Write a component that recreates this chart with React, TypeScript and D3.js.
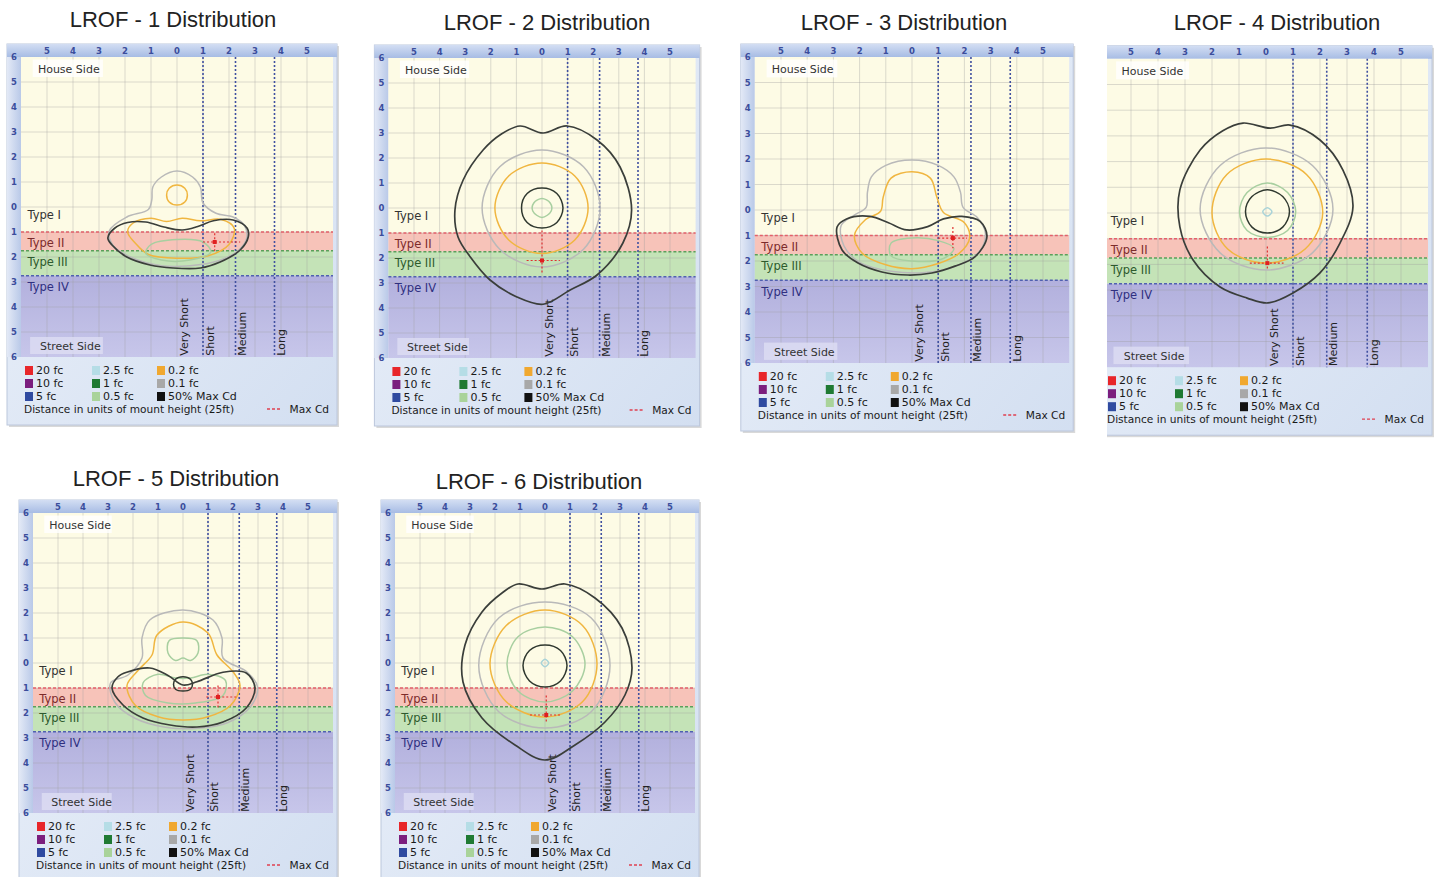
import React from 'react';
import * as d3 from 'd3';

type Pt = [number, number];
type Contour = { level: string; points: Pt[] };

// chart values (x: lateral units, y: + is street side)
const titles = [
  'LROF - 1 Distribution',
  'LROF - 2 Distribution',
  'LROF - 3 Distribution',
  'LROF - 4 Distribution',
  'LROF - 5 Distribution',
  'LROF - 6 Distribution',
];
const xTickValues = [-5, -4, -3, -2, -1, 0, 1, 2, 3, 4, 5];
const yTickValues = [-6, -5, -4, -3, -2, -1, 0, 1, 2, 3, 4, 5, 6];
const gridValues = [-5, -4, -3, -2, -1, 0, 1, 2, 3, 4, 5];
const typeEdges = [1, 1.75, 2.75];
const typeNames = ['Type I', 'Type II', 'Type III', 'Type IV'];
const lateralEdges = [1, 2.25, 3.75];
const lateralNames = ['Very Short', 'Short', 'Medium', 'Long'];
const legendColumns = [
  ['20 fc', '10 fc', '5 fc'],
  ['2.5 fc', '1 fc', '0.5 fc'],
  ['0.2 fc', '0.1 fc', '50% Max Cd'],
];

const lrof1: Contour[] = [
  { level: '0.1 fc', points: [[0, -1.44], [0.6, -1.2], [0.9, -0.8], [1.0, -0.16], [1.5, 0.25], [2.16, 0.4], [2.6, 0.75], [2.68, 1.25], [2.35, 1.75], [1.6, 2.15], [0.5, 2.35], [-0.6, 2.35], [-1.8, 2.0], [-2.45, 1.55], [-2.6, 0.95], [-1.93, 0.4], [-1.1, 0.1], [-0.97, -0.28], [-0.93, -0.8], [-0.6, -1.2]] },
  { level: '0.2 fc', points: [[0, -0.88], [0.3, -0.75], [0.4, -0.48], [0.3, -0.2], [0, -0.08], [-0.3, -0.2], [-0.4, -0.48], [-0.3, -0.75]] },
  { level: '0.2 fc', points: [[-1.7, 0.65], [-1.0, 0.45], [-0.4, 0.58], [0.2, 0.45], [0.9, 0.55], [1.7, 0.5], [2.2, 0.85], [2.0, 1.5], [1.2, 1.95], [0, 2.05], [-1.1, 1.9], [-1.6, 1.45], [-1.9, 1.0]] },
  { level: '0.5 fc', points: [[-1.0, 1.5], [0, 1.3], [1.0, 1.4], [1.3, 1.8], [0.5, 2.12], [-0.6, 2.12], [-1.2, 1.85]] },
  { level: '50% Max Cd', points: [[-2.66, 1.24], [-2.4, 0.85], [-1.9, 0.62], [-1.2, 0.6], [-0.5, 0.8], [0.2, 0.92], [0.8, 0.78], [1.4, 0.55], [2.16, 0.52], [2.7, 0.85], [2.74, 1.2], [2.43, 1.72], [1.66, 2.2], [0.9, 2.44], [-0.15, 2.44], [-1.04, 2.32], [-1.93, 2.0], [-2.5, 1.52]] },
];

const lrof2: Contour[] = [
  { level: '0.1 fc', points: [[0, -2.32], [1.62, -1.65], [2.27, 0], [1.62, 1.65], [0, 2.36], [-1.65, 1.65], [-2.34, 0], [-1.65, -1.65]] },
  { level: '0.2 fc', points: [[0, -1.8], [1.28, -1.28], [1.8, 0], [1.28, 1.28], [0, 1.82], [-1.3, 1.28], [-1.84, 0], [-1.3, -1.28]] },
  { level: '0.5 fc', points: [[0, -0.38], [0.32, -0.2], [0.36, 0.12], [0, 0.38], [-0.36, 0.12], [-0.32, -0.2]] },
  { level: '1 fc', points: [[0, -0.8], [0.58, -0.58], [0.82, 0], [0.58, 0.58], [0, 0.8], [-0.58, 0.58], [-0.8, 0], [-0.58, -0.58]] },
  { level: '50% Max Cd', points: [[-0.86, -3.28], [0.04, -3.0], [0.98, -3.28], [2.15, -2.72], [3.05, -1.64], [3.5, 0.08], [3.16, 1.4], [2.15, 2.68], [1.1, 3.28], [0.04, 3.85], [-0.98, 3.56], [-2.03, 2.88], [-2.8, 1.96], [-3.28, 1.16], [-3.4, 0.08], [-3.08, -1.12], [-2.3, -2.32], [-1.6, -2.95]] },
];

const lrof3: Contour[] = [
  { level: '0.1 fc', points: [[0, -1.96], [1.0, -1.75], [1.6, -1.3], [1.85, -0.7], [1.95, -0.1], [2.5, 0.3], [2.8, 0.9], [2.6, 1.6], [1.8, 2.15], [0.5, 2.45], [-0.8, 2.4], [-2.0, 2.05], [-2.6, 1.4], [-2.7, 0.6], [-2.2, 0.2], [-1.75, -0.1], [-1.7, -0.7], [-1.55, -1.3], [-1.0, -1.75]] },
  { level: '0.2 fc', points: [[0, -1.5], [0.7, -1.25], [0.95, -0.5], [1.2, 0.1], [2.0, 0.5], [2.2, 1.1], [1.8, 1.7], [1.0, 2.1], [0, 2.3], [-1.0, 2.15], [-1.9, 1.7], [-2.2, 1.0], [-1.8, 0.4], [-1.2, 0.05], [-1.1, -0.5], [-0.8, -1.25]] },
  { level: '0.5 fc', points: [[-0.8, 1.3], [0, 1.1], [1.0, 1.2], [1.6, 1.5], [1.2, 1.9], [0, 2.0], [-0.8, 1.8]] },
  { level: '50% Max Cd', points: [[-2.86, 0.67], [-2.5, 0.35], [-1.6, 0.25], [-0.9, 0.5], [-0.2, 0.78], [0.6, 0.65], [1.2, 0.35], [1.9, 0.25], [2.6, 0.45], [2.86, 1.05], [2.4, 1.84], [1.64, 2.2], [0.76, 2.47], [-0.15, 2.55], [-1.15, 2.43], [-2.06, 2.08], [-2.67, 1.57]] },
];

const lrof4: Contour[] = [
  { level: '0.1 fc', points: [[0, -2.53], [1.72, -1.85], [2.48, -0.15], [1.72, 1.55], [0, 2.22], [-1.7, 1.55], [-2.44, -0.15], [-1.7, -1.85]] },
  { level: '0.2 fc', points: [[0, -2.1], [1.5, -1.5], [2.1, 0], [1.45, 1.4], [0, 1.95], [-1.42, 1.4], [-2.0, 0], [-1.45, -1.5]] },
  { level: '0.5 fc', points: [[0.05, -1.17], [0.8, -0.8], [1.1, -0.05], [0.8, 0.68], [0.05, 0.95], [-0.7, 0.68], [-0.98, -0.05], [-0.7, -0.8]] },
  { level: '2.5 fc', points: [[0.05, -0.2], [0.22, -0.05], [0.05, 0.12], [-0.12, -0.05]] },
  { level: '1 fc', points: [[0.05, -0.9], [0.62, -0.64], [0.87, -0.05], [0.62, 0.55], [0.05, 0.78], [-0.52, 0.55], [-0.76, -0.05], [-0.52, -0.64]] },
  { level: '50% Max Cd', points: [[-0.85, -3.5], [0.15, -3.3], [0.89, -3.42], [2.0, -2.84], [2.85, -1.67], [3.22, -0.23], [2.74, 1.17], [2.0, 2.33], [1.0, 3.11], [0.07, 3.5], [-0.7, 3.31], [-1.7, 2.88], [-2.7, 1.83], [-3.19, 0.54], [-3.19, -0.9], [-2.44, -2.45], [-1.6, -3.2]] },
];

const lrof5: Contour[] = [
  { level: '0.1 fc', points: [[0, -2.12], [1.2, -1.72], [1.56, -1.0], [1.6, -0.2], [2.56, 0.36], [2.98, 0.95], [2.72, 1.72], [1.8, 2.38], [0.5, 2.62], [-0.7, 2.57], [-1.9, 2.22], [-2.72, 1.58], [-2.9, 0.8], [-2.2, 0.48], [-1.64, -0.2], [-1.64, -1.0], [-1.33, -1.72]] },
  { level: '0.2 fc', points: [[0, -1.64], [1.0, -1.2], [1.36, -0.32], [2.0, 0.35], [2.28, 0.9], [1.9, 1.7], [1.0, 2.15], [0, 2.28], [-1.0, 2.15], [-1.9, 1.7], [-2.24, 0.9], [-1.8, 0.3], [-1.24, -0.32], [-1.04, -1.12]] },
  { level: '0.5 fc', points: [[0, -1.0], [0.55, -0.9], [0.6, -0.4], [0.3, -0.1], [0, -0.2], [-0.3, -0.1], [-0.6, -0.4], [-0.55, -0.9]] },
  { level: '0.5 fc', points: [[-1.6, 0.8], [-1.0, 0.45], [-0.3, 0.6], [0.3, 0.6], [1.0, 0.45], [1.7, 0.7], [1.6, 1.3], [0.5, 1.6], [-0.6, 1.6], [-1.5, 1.3]] },
  { level: '1 fc', points: [[0, 0.55], [0.3, 0.65], [0.38, 0.85], [0.3, 1.05], [0, 1.12], [-0.3, 1.05], [-0.38, 0.85], [-0.3, 0.65]] },
  { level: '50% Max Cd', points: [[-2.84, 1.0], [-2.6, 0.55], [-2.25, 0.37], [-1.33, 0.2], [-0.6, 0.5], [0, 0.88], [0.56, 0.75], [1.6, 0.37], [2.53, 0.4], [2.88, 1.0], [2.53, 1.8], [1.6, 2.36], [0.56, 2.56], [-0.52, 2.48], [-1.6, 2.2], [-2.4, 1.68]] },
];

const lrof6: Contour[] = [
  { level: '0.1 fc', points: [[0, -2.44], [1.85, -1.8], [2.6, 0.1], [1.85, 1.95], [0, 2.6], [-1.85, 1.95], [-2.65, 0.1], [-1.85, -1.8]] },
  { level: '0.2 fc', points: [[0, -2.12], [1.5, -1.5], [2.08, 0.05], [1.5, 1.55], [0, 2.16], [-1.55, 1.55], [-2.2, 0.05], [-1.55, -1.5]] },
  { level: '0.5 fc', points: [[0, -1.44], [1.1, -1.05], [1.6, 0.05], [1.1, 1.12], [0, 1.56], [-1.08, 1.12], [-1.52, 0.05], [-1.08, -1.05]] },
  { level: '2.5 fc', points: [[0, -0.15], [0.15, 0], [0, 0.15], [-0.15, 0]] },
  { level: '1 fc', points: [[0, -0.72], [0.62, -0.5], [0.88, 0.1], [0.62, 0.72], [0, 0.96], [-0.62, 0.72], [-0.88, 0.1], [-0.62, -0.5]] },
  { level: '50% Max Cd', points: [[-1.08, -3.16], [-0.12, -2.96], [0.8, -3.16], [2.0, -2.6], [3.08, -1.4], [3.48, 0.2], [3.2, 1.28], [2.4, 2.36], [1.2, 3.28], [0, 3.88], [-1.2, 3.28], [-2.52, 2.2], [-3.28, 0.76], [-3.2, -0.72], [-2.52, -2.04], [-1.72, -2.8]] },
];

const panelContours = [lrof1, lrof2, lrof3, lrof4, lrof5, lrof6];
const maxCdPoints: Pt[] = [[1.45, 1.4], [0, 2.1], [1.56, 1.1], [0.05, 1.95], [1.4, 1.36], [0.05, 2.08]];
// [x from, x to, y from, y to] of the dashed Max Cd cross
const maxCdSpans: [number, number, number, number][] = [
  [1.0, 2.43, 1.05, 1.8],
  [-0.6, 0.7, 0.9, 2.6],
  [1.0, 2.1, 0.67, 1.5],
  [-0.6, 0.65, 1.3, 2.2],
  [0.93, 2.2, 0.9, 1.8],
  [-0.6, 0.6, 1.3, 2.4],
];

// styles
const swatch: Record<string, string> = {
  '20 fc': '#e8262a', '10 fc': '#7b1e7e', '5 fc': '#2f4aa0',
  '2.5 fc': '#b5dde6', '1 fc': '#1f7a33', '0.5 fc': '#a9d39a',
  '0.2 fc': '#f0a830', '0.1 fc': '#a8a8a8', '50% Max Cd': '#111111',
};
const stroke: Record<string, string> = {
  '0.1 fc': '#b9b9b9', '0.2 fc': '#f0b640', '0.5 fc': '#a8cfa0',
  '2.5 fc': '#a9d3d8', '1 fc': '#2f382f', '50% Max Cd': '#3a3e3a',
};
const typeLabelY = [0.48, 1.6, 2.36, 3.36];
const typeLabelColor = ['#333333', '#7c2b2b', '#2d5a2d', '#2f2f80'];
const edgeColor = ['#e4606a', '#5aa05a', '#5060b0'];
const lateralLabelX = [0.3, 1.27, 2.5, 4.02];

const layout = [
  { cx: 177, cy: 207, ux: 26, uy: 25, tx: 173, ty: 27 },
  { cx: 542, cy: 208, ux: 25.6, uy: 25, tx: 547, ty: 30 },
  { cx: 912, cy: 210, ux: 26.2, uy: 25.5, tx: 904, ty: 30 },
  { cx: 1266, cy: 213, ux: 27, uy: 25.7, tx: 1277, ty: 30, clipLeft: 1107 },
  { cx: 183, cy: 663, ux: 25, uy: 25, tx: 176, ty: 486 },
  { cx: 545, cy: 663, ux: 25, uy: 25, tx: 539, ty: 489 },
];

const font = "'DejaVu Sans', Verdana, sans-serif";

function Panel({ i }: { i: number }) {
  const L = layout[i];
  const x = d3.scaleLinear().domain([-6, 6]).range([L.cx - 6 * L.ux, L.cx + 6 * L.ux]);
  const y = d3.scaleLinear().domain([-6, 6]).range([L.cy - 6 * L.uy, L.cy + 6 * L.uy]);
  const left = x(-6) - 14, top = y(-6) - 13, right = x(6) + 4, bottom = y(6) + 68;
  const pl = x(-6), pr = x(6), pt = y(-6), pb = y(6);
  const line = d3.line<Pt>()
    .x(d => x(d[0]))
    .y(d => y(d[1]))
    .curve(d3.curveCatmullRomClosed.alpha(0.5));
  const [mx, my] = maxCdPoints[i];
  const [sx1, sx2, sy1, sy2] = maxCdSpans[i];

  return (
    <g>
      <text x={L.tx} y={L.ty} textAnchor="middle" fontFamily="'Liberation Sans', Arial, sans-serif" fontSize={22} fill="#222">
        {titles[i]}
      </text>
      <g clipPath={L.clipLeft ? `url(#clip${i})` : undefined}>
        {L.clipLeft && (
          <clipPath id={`clip${i}`}>
            <rect x={L.clipLeft} y={0} width={2000} height={2000} />
          </clipPath>
        )}
        <rect x={left + 2} y={top + 2} width={right - left} height={bottom - top} fill="#d9d9d9" />
        <rect x={left} y={top} width={right - left} height={bottom - top} fill="url(#legendBg)" stroke="#bcc7dc" />
        <rect x={left} y={top} width={right - left} height={pt - top} fill="url(#topBand)" />
        <rect x={left} y={pt} width={pl - left} height={pb - pt} fill="url(#leftBand)" />

        <rect x={pl} y={pt} width={pr - pl} height={y(1) - pt} fill="#fdfbe5" />
        <rect x={pl} y={y(1)} width={pr - pl} height={y(1.75) - y(1)} fill="#f7c3b9" />
        <rect x={pl} y={y(1.75)} width={pr - pl} height={y(2.75) - y(1.75)} fill="#c4e3b7" />
        <rect x={pl} y={y(2.75)} width={pr - pl} height={pb - y(2.75)} fill="url(#typeIV)" />

        {gridValues.map(v => (
          <line key={'gx' + v} x1={x(v)} x2={x(v)} y1={pt} y2={pb} stroke="#9a9a9a" strokeOpacity={0.35} />
        ))}
        {gridValues.map(v => (
          <line key={'gy' + v} x1={pl} x2={pr} y1={y(v)} y2={y(v)} stroke="#9a9a9a" strokeOpacity={0.35} />
        ))}

        <rect x={x(-5.55)} y={y(-5.9)} width={x(-2.85) - x(-5.55)} height={y(-5.2) - y(-5.9)} fill="#ffffff" fillOpacity={0.8} />
        <text x={x(-5.35)} y={y(-5.36)} fontFamily={font} fontSize={11} fill="#333">House Side</text>
        <rect x={x(-5.65)} y={y(5.2)} width={x(-2.85) - x(-5.65)} height={y(5.88) - y(5.2)} fill="#dcdcf2" fillOpacity={0.85} />
        <text x={x(-5.27)} y={y(5.72)} fontFamily={font} fontSize={11} fill="#333">Street Side</text>

        {typeNames.map((t, k) => (
          <text key={t} x={x(-5.75)} y={y(typeLabelY[k])} fontFamily={font} fontSize={11.5} fill={typeLabelColor[k]}>{t}</text>
        ))}

        {typeEdges.map((v, k) => (
          <line key={'te' + v} x1={pl} x2={pr} y1={y(v)} y2={y(v)} stroke={edgeColor[k]} strokeWidth={1.5} strokeDasharray="3,2" />
        ))}
        {lateralEdges.map(v => (
          <line key={'le' + v} x1={x(v)} x2={x(v)} y1={pt} y2={pb} stroke="#4050a0" strokeWidth={1.6} strokeDasharray="2,2" />
        ))}
        {lateralNames.map((t, k) => (
          <text key={t} transform={`translate(${x(lateralLabelX[k])},${y(5.95)}) rotate(-90)`}
            dominantBaseline="central" fontFamily={font} fontSize={11} fill="#222">{t}</text>
        ))}

        {panelContours[i].map((c, k) => (
          <path key={k} d={line(c.points) || ''} fill="none" stroke={stroke[c.level]}
            strokeWidth={c.level === '50% Max Cd' ? 1.7 : 1.5} />
        ))}

        <line x1={x(sx1)} x2={x(sx2)} y1={y(my)} y2={y(my)} stroke="#e03030" strokeWidth={1.2} strokeDasharray="2,2" />
        <line x1={x(mx)} x2={x(mx)} y1={y(sy1)} y2={y(sy2)} stroke="#e03030" strokeWidth={1.2} strokeDasharray="2,2" />
        <rect x={x(mx) - 2} y={y(my) - 2} width={4} height={4} fill="#e02020" />

        {xTickValues.map(v => (
          <text key={'xt' + v} x={x(v)} y={top + 9.5} textAnchor="middle" fontFamily={font} fontSize={8.5}
            fontWeight="bold" fill="#3b4d9c">{Math.abs(v)}</text>
        ))}
        {yTickValues.map(v => (
          <text key={'yt' + v} x={left + 7} y={y(v) + 3} textAnchor="middle" fontFamily={font} fontSize={8.5}
            fontWeight="bold" fill="#3b4d9c">{Math.abs(v)}</text>
        ))}

        {legendColumns.map((col, ci) => col.map((lab, ri) => {
          const sx = pl + [4, 71, 136][ci];
          const sy = pb + 9 + ri * 13;
          return (
            <g key={lab}>
              <rect x={sx} y={sy} width={8} height={9} fill={swatch[lab]} />
              <text x={sx + 11} y={sy + 8} fontFamily={font} fontSize={11} fill="#1a1a1a">{lab}</text>
            </g>
          );
        }))}
        <text x={pl + 3} y={pb + 56} fontFamily={font} fontSize={10.6} fill="#1a1a1a">
          Distance in units of mount height (25ft)
        </text>
        <line x1={pr - 66} x2={pr - 52} y1={pb + 52} y2={pb + 52} stroke="#e04050" strokeWidth={1.3} strokeDasharray="3,2" />
        <text x={pr - 4} y={pb + 56} textAnchor="end" fontFamily={font} fontSize={10.6} fill="#1a1a1a">Max Cd</text>
      </g>
    </g>
  );
}

export default function App() {
  return (
    <svg width={1438} height={877} style={{ position: 'absolute', left: 0, top: 0, background: '#fff' }}>
      <defs>
        <linearGradient id="topBand" x1="0" y1="0" x2="0" y2="1">
          <stop offset="0" stopColor="#d3def3" />
          <stop offset="1" stopColor="#a7bce4" />
        </linearGradient>
        <linearGradient id="leftBand" x1="0" y1="0" x2="1" y2="0">
          <stop offset="0" stopColor="#e3e9f6" />
          <stop offset="1" stopColor="#b9c9e8" />
        </linearGradient>
        <linearGradient id="typeIV" x1="0" y1="0" x2="0" y2="1">
          <stop offset="0" stopColor="#b2b0dd" />
          <stop offset="1" stopColor="#c7c6ea" />
        </linearGradient>
        <linearGradient id="legendBg" x1="0" y1="0" x2="1" y2="1">
          <stop offset="0" stopColor="#edf2fa" />
          <stop offset="1" stopColor="#d3dff1" />
        </linearGradient>
      </defs>
      {titles.map((t, i) => <Panel key={t} i={i} />)}
    </svg>
  );
}
